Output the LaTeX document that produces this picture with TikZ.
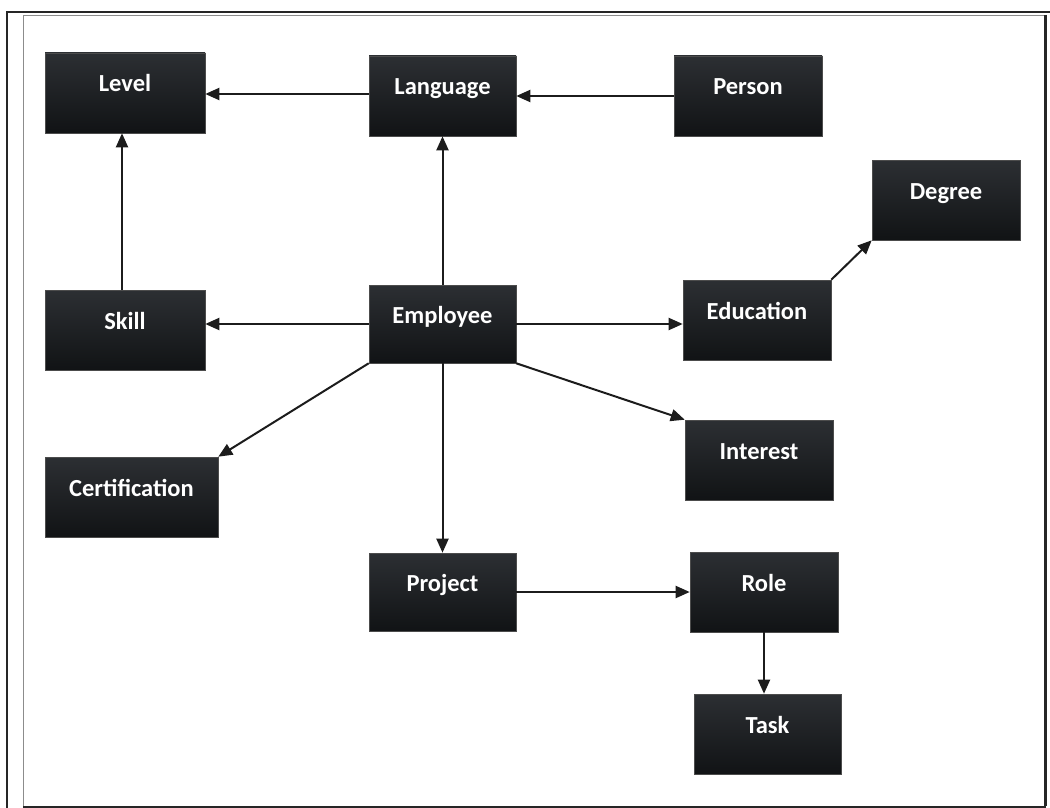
\documentclass[tikz,border=0pt]{standalone}
\usepackage{fontspec}
\setmainfont{Carlito}
\usetikzlibrary{arrows.meta,calc}
\definecolor{boxtop}{RGB}{44,47,51}
\definecolor{boxmid}{RGB}{21,23,26}
\definecolor{boxbot}{RGB}{17,19,21}
\definecolor{edge}{RGB}{28,28,28}
\tikzset{
  entity/.style={rectangle, draw=black!70, line width=0.6pt,
    top color=boxtop, middle color=boxmid, bottom color=boxbot,
    text=white, font=\bfseries\fontsize{24.5}{24.5}\selectfont,
    minimum height=80pt, text height=12pt, text depth=14pt,
    inner sep=0pt},
  rel/.style={draw=edge, line width=2pt,
    -{Triangle[length=14pt,width=12pt]}},
}
\begin{document}
\begin{tikzpicture}[x=1pt,y=-1pt]
\useasboundingbox (0,0) rectangle (1050,808);
% page frame
\draw[line width=2pt, black!85] (7,808) -- (7,12) -- (1050,12);
\draw[line width=1pt, black!45] (1045,16) -- (23,16) -- (23,806);
\draw[line width=3pt, black!85] (1045,15) -- (1045,806);
\draw[line width=2pt, black!85] (23,806.5) -- (1046,806.5);

% entities
\node[entity, minimum width=160pt] (level)  at (125,93)   {Level};
\node[entity, minimum width=147pt] (lang)   at (442.5,96) {Language};
\node[entity, minimum width=148pt] (person) at (748,96)   {Person};
\node[entity, minimum width=148pt] (degree) at (946,200)  {Degree};
\node[entity, minimum width=160pt] (skill)  at (125,330)  {Skill};
\node[entity, minimum width=147pt, minimum height=78pt] (emp) at (442.5,324) {Employee};
\node[entity, minimum width=148pt] (edu)    at (757,320)  {Education};
\node[entity, minimum width=148pt] (interest) at (759,460) {Interest};
\node[entity, minimum width=173pt] (cert)   at (131.5,497) {Certification};
\node[entity, minimum width=147pt, minimum height=78pt] (proj) at (442.5,592) {Project};
\node[entity, minimum width=148pt] (role)   at (764,592)  {Role};
\node[entity, minimum width=147pt] (task)   at (767.5,734) {Task};

% relations
\draw[rel] (person.west) -- (lang.east);
\draw[rel] ($(lang.west)+(0,-2)$) -- ($(level.east |- lang.west)+(0,-2)$);
\draw[rel] (skill.north -| 122,0) -- (level.south -| 122,0);
\draw[rel] (emp.north) -- (lang.south);
\draw[rel] (emp.west) -- (skill.east |- emp.west);
\draw[rel] (emp.east) -- (edu.west |- emp.east);
\draw[rel] (edu.north east) -- (degree.south west);
\draw[rel] (emp.south west) -- (cert.north east);
\draw[rel] (emp.south east) -- (interest.north west);
\draw[rel] (emp.south) -- (proj.north);
\draw[rel] (proj.east) -- (role.west);
\draw[rel] (role.south) -- (task.north -| role.south);
\end{tikzpicture}
\end{document}
